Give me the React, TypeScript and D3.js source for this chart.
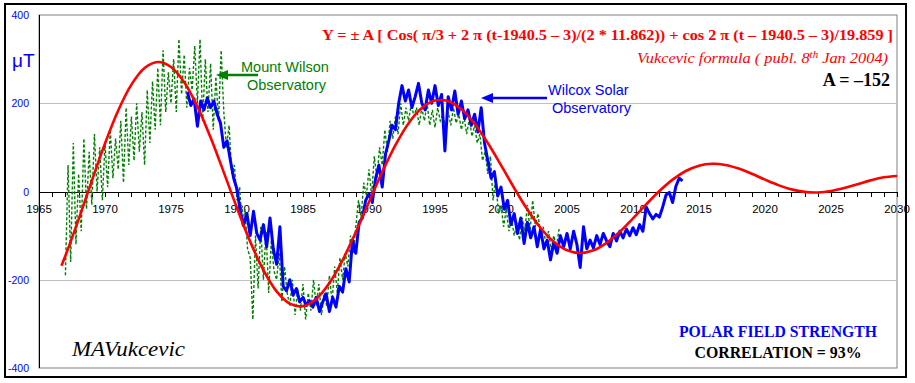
import React from 'react';
import * as d3 from 'd3';

const W = 915;
const H = 383;

// axis ticks
const xLabelYears = [1965, 1970, 1975, 1980, 1985, 1990, 1995, 2000, 2005, 2010, 2015, 2020, 2025, 2030];
const xMinorYears = d3.range(1965, 2031, 1);
const yTickValues = [400, 200, 0, -200, -400];
const yGridValues = [200, -200];

// Vukcevic formula curve (red), yearly samples
const modelLeadYear = 1966.7;
const modelLeadValue = -168;
const modelStartYear = 1967;
const modelValues = [
  -145.5, -63.1, 24.2, 108.8, 183.6, 242.2, 279.8, 293.4, 282.2, 247.4,
  192.5, 122.4, 43.4, -37.6, -113.6, -178.2, -226.3, -254.1, -259.8, -243.6,
  -207.6, -155.4, -92.2, -23.7, 44.1, 105.2, 154.9, 189.2, 206.0, 204.8,
  186.4, 153.5, 109.8, 59.6, 7.8, -41.0, -82.7, -114.1, -133.3, -139.5,
  -133.3, -116.3, -91.2, -61.0, -29.2, 1.0, 26.9, 46.5, 58.5, 62.8,
  60.1, 51.9, 40.1, 26.9, 14.5, 4.8, -0.9, -2.1, 1.1, 7.8,
  16.5, 25.2, 32.1, 35.3,
];

// Wilcox Solar Observatory (blue), quarterly
const wilcoxStartYear = 1976.25;
const wilcoxStep = 0.25;
const wilcoxValues = [
  225, 195, 210,
  148, 205, 185, 212,
  190, 205, 175, 155,
  100, 115, 70, 30,
  5, -45, -75, -50,
  -100, -45, -95, -110,
  -75, -125, -60, -130,
  -165, -80, -215, -225,
  -200, -235, -220, -250,
  -240, -258, -248, -262,
  -240, -272, -250, -232,
  -272, -240, -262, -215,
  -228, -175, -205, -110,
  -140, -70, -60, -20,
  -5, -25, 30, 60,
  10, 85, 115, 150,
  140, 200, 240, 205,
  230, 190, 215, 245,
  200, 185, 230, 200,
  240, 195, 220, 92,
  215, 185, 228, 175,
  205, 165, 185, 150,
  175, 135, 190, 110,
  70, 30, 45, -10,
  10, -40, -20, -75,
  -50, -95, -60, -118,
  -70, -105, -80, -125,
  -85, -130, -110, -155,
  -115, -140, -100, -125,
  -95, -130, -90, -120,
  -172, -80, -130, -110,
  -128, -100, -120, -95,
  -112, -125, -95, -112,
  -90, -105, -85, -100,
  -82, -98, -75, -90,
  -35, -50, -62, -52,
  -58, -35, -8, -2,
  -25, 12, 30, 24,
];

// Mount Wilson Observatory (green dashed), 0.2-year samples
const mtWilsonStartYear = 1967;
const mtWilsonStep = 0.2;
const mtWilsonValues = [
  -190, 60, -160, 110, -120,
  40, -90, 120, -40, 90,
  -30, 130, 0, 100, -20,
  110, 10, 140, 30, 120,
  50, 160, 20, 190, 60,
  170, 70, 200, 90, 180,
  60, 230, 110, 250, 140,
  280, 150, 320, 180, 270,
  200, 300, 180, 345, 220,
  310, 190, 280, 230, 330,
  200, 345, 160, 300, 180,
  290, 140, 260, 160, 320,
  180, 100, 150, 40, 60,
  -20, 10, -80, -40, -130,
  -150, -290, -100, -220, -80,
  -200, -90, -230, -110, -180,
  -200, -140, -250, -170, -230,
  -260, -200, -280, -220, -270,
  -210, -290, -230, -270, -200,
  -260, -210, -280, -230, -260,
  -190, -250, -170, -230, -150,
  -200, -140, -170, -100, -140,
  -80, -20, -60, 20, -10,
  50, -10, 80, 30, 100,
  60, 140, 90, 160, 120,
  170, 130, 200, 150, 190,
  160, 200, 170, 190, 150,
  190, 160, 200, 150, 185,
  145, 190, 160, 175, 140,
  180, 150, 190, 155, 175,
  140, 170, 130, 165, 125,
  150, 110, 130, 70, 90,
  40, 80, -20, 30, -50,
  -30, -80, -40, -90, -60,
  -100, -70, -110, -60, -90,
  -30, -90, -20, -80, -50,
  -100, -80, -120, -90, -130,
  -100, -125, -85,
];

type Pt = { year: number; value: number };

const PLOT = { left: 39, right: 897, top: 15, bottom: 368 };

export default function App() {
  const x = d3.scaleLinear().domain([1965, 2030]).range([PLOT.left, PLOT.right]);
  const y = d3.scaleLinear().domain([-400, 400]).range([PLOT.bottom, PLOT.top]);

  const modelPts: Pt[] = [{ year: modelLeadYear, value: modelLeadValue }].concat(
    modelValues.map((v, i) => ({ year: modelStartYear + i, value: v }))
  );
  const wilcoxPts: Pt[] = wilcoxValues.map((v, i) => ({ year: wilcoxStartYear + i * wilcoxStep, value: v }));
  const mwPts: Pt[] = mtWilsonValues.map((v, i) => ({ year: mtWilsonStartYear + i * mtWilsonStep, value: v }));

  const smooth = d3.line<Pt>().x(d => x(d.year)).y(d => y(d.value)).curve(d3.curveCatmullRom.alpha(0.5));
  const straight = d3.line<Pt>().x(d => x(d.year)).y(d => y(d.value));

  const sans = "'Liberation Sans', Arial, sans-serif";
  const serif = "'Liberation Serif', 'Times New Roman', serif";

  const y0 = y(0);

  return (
    <svg width={W} height={H} style={{ position: 'absolute', left: 0, top: 0, background: '#fff' }}>
      <rect x={0} y={0} width={W} height={H} fill="#fff" />
      {/* outer frame */}
      <rect x={5} y={4} width={901} height={373} fill="none" stroke="#000" strokeWidth={2} />
      {/* plot frame */}
      <rect x={PLOT.left} y={PLOT.top} width={PLOT.right - PLOT.left} height={PLOT.bottom - PLOT.top} fill="none" stroke="#808080" strokeWidth={1} />
      {yGridValues.map(v => (
        <line key={v} x1={PLOT.left} x2={PLOT.right} y1={Math.round(y(v)) + 0.5} y2={Math.round(y(v)) + 0.5} stroke="#c0c0c0" strokeWidth={1} />
      ))}
      <line x1={PLOT.left + 0.5} x2={PLOT.left + 0.5} y1={PLOT.top} y2={PLOT.bottom} stroke="#000" strokeWidth={1} />
      {/* zero axis */}
      <line x1={PLOT.left} x2={PLOT.right} y1={Math.round(y0) + 0.5} y2={Math.round(y0) + 0.5} stroke="#000" strokeWidth={1} />
      {xMinorYears.map(yr => (
        <line key={yr} x1={Math.round(x(yr)) + 0.5} x2={Math.round(x(yr)) + 0.5} y1={Math.round(y0)} y2={Math.round(y0) + 5} stroke="#000" strokeWidth={1} />
      ))}
      {xLabelYears.map(yr => (
        <text key={yr} x={x(yr)} y={y0 + 21} textAnchor="middle" fontFamily={sans} fontSize={11.5} fill="#000">{yr}</text>
      ))}
      {yTickValues.map(v => (
        <text key={v} x={29} y={y(v) + 4} textAnchor="end" fontFamily={sans} fontSize={10.5} fill="#0000ff">{v}</text>
      ))}
      <text x={12} y={67} fontFamily={sans} fontSize={19} fill="#0000ff">μT</text>

      {/* series */}
      <path d={straight(mwPts) || ''} fill="none" stroke="#008000" strokeWidth={1.4} strokeDasharray="3,2" />
      <path d={straight(wilcoxPts) || ''} fill="none" stroke="#0000ff" strokeWidth={3} strokeLinejoin="round" />
      <path d={smooth(modelPts) || ''} fill="none" stroke="#ff0000" strokeWidth={2.6} />

      {/* formula texts */}
      <text x={893} y={40} textAnchor="end" fontFamily={serif} fontWeight="bold" fontSize={15.5} fill="#ff0000" textLength={571} lengthAdjust="spacingAndGlyphs">
        Y = ± A [ Cos( π/3 + 2 π (t-1940.5 – 3)/(2 * 11.862)) + cos 2 π (t – 1940.5 – 3)/19.859 ]
      </text>
      <text x={637} y={63} fontFamily={serif} fontStyle="italic" fontSize={15} fill="#ff0000" textLength={251} lengthAdjust="spacingAndGlyphs">
        Vukcevic formula ( publ. 8<tspan fontSize={10} dy={-5}>th</tspan><tspan dy={5}> Jan 2004)</tspan>
      </text>
      <text x={890} y={86} textAnchor="end" fontFamily={serif} fontWeight="bold" fontSize={18} fill="#000">A = –152</text>

      {/* Mount Wilson legend */}
      <text x={241} y={72} fontFamily={sans} fontSize={14.5} fill="#008000">Mount Wilson</text>
      <text x={247} y={90} fontFamily={sans} fontSize={14.5} fill="#008000">Observatory</text>
      <line x1={226} x2={258} y1={75} y2={75} stroke="#008000" strokeWidth={2.5} />
      <path d="M216,75 L228,70 L228,80 Z" fill="#008000" />

      {/* Wilcox legend */}
      <text x={548} y={95} fontFamily={sans} fontSize={14.5} fill="#0000ff">Wilcox Solar</text>
      <text x={552} y={113} fontFamily={sans} fontSize={14.5} fill="#0000ff">Observatory</text>
      <line x1={490} x2={547} y1={98} y2={98} stroke="#0000ff" strokeWidth={2.5} />
      <path d="M481,98 L493,93 L493,103 Z" fill="#0000ff" />

      {/* bottom texts */}
      <text x={72} y={356} fontFamily={serif} fontStyle="italic" fontSize={22} fill="#000" textLength={113} lengthAdjust="spacingAndGlyphs">MAVukcevic</text>
      <text x={778} y={337} textAnchor="middle" fontFamily={serif} fontWeight="bold" fontSize={16} fill="#0000ff" textLength={198} lengthAdjust="spacingAndGlyphs">POLAR FIELD STRENGTH</text>
      <text x={778} y={358} textAnchor="middle" fontFamily={serif} fontWeight="bold" fontSize={16} fill="#000" textLength={167} lengthAdjust="spacingAndGlyphs">CORRELATION = 93%</text>
    </svg>
  );
}
